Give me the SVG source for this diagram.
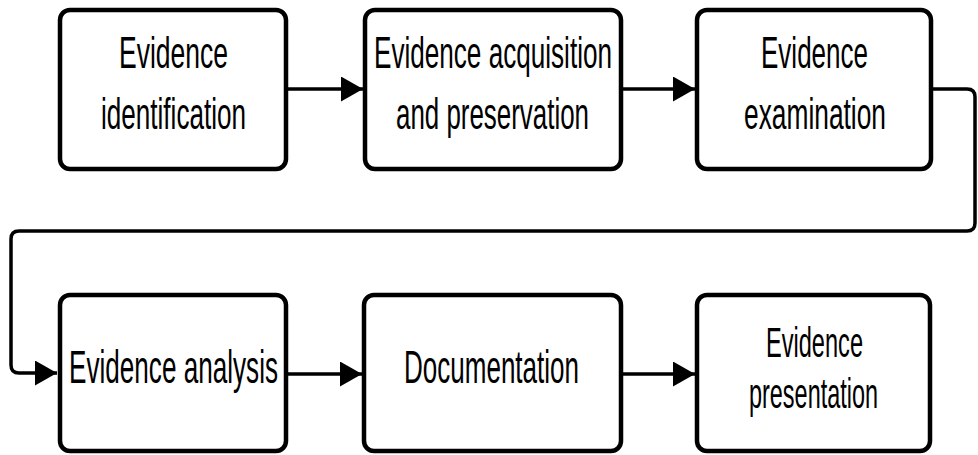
<svg xmlns="http://www.w3.org/2000/svg" width="978" height="455" viewBox="0 0 978 455">
  <style>
    .box { fill: #ffffff; stroke: #000000; stroke-width: 4.5; }
    .lbl { font-family: "Liberation Sans", Arial, sans-serif; fill: #000000; text-anchor: middle; }
    .wire { fill: none; stroke: #000000; stroke-width: 3.5; stroke-linejoin: round; }
  </style>
  <defs>
    <marker id="arrow" markerUnits="userSpaceOnUse" markerWidth="24" markerHeight="28" refX="22" refY="12.5" orient="auto">
      <path d="M0,0 L22,12.5 L0,25 Z" fill="#000000"/>
    </marker>
  </defs>

  <!-- connectors -->
  <g id="connectors">
    <line class="wire" x1="288" y1="89" x2="363" y2="89" marker-end="url(#arrow)"/>
    <line class="wire" x1="623" y1="89" x2="695" y2="89" marker-end="url(#arrow)"/>
    <path class="wire" d="M933,89 H967 Q975,89 975,97 V223 Q975,231 967,231 H19 Q11,231 11,239 V365 Q11,373 19,373 H57" marker-end="url(#arrow)"/>
    <line class="wire" x1="288" y1="374" x2="362" y2="374" marker-end="url(#arrow)"/>
    <line class="wire" x1="623" y1="374" x2="695" y2="374" marker-end="url(#arrow)"/>
  </g>

  <!-- top row -->
  <g id="identification">
    <rect class="box" x="60" y="10" width="226" height="159" rx="10"/>
    <text class="lbl" x="173.5" y="68" font-size="44" textLength="109" lengthAdjust="spacingAndGlyphs">Evidence</text>
    <text class="lbl" x="173.5" y="129" font-size="44" textLength="145" lengthAdjust="spacingAndGlyphs">identification</text>
  </g>
  <g id="acquisition">
    <rect class="box" x="365" y="10" width="256" height="159" rx="10"/>
    <text class="lbl" x="493" y="68" font-size="44" textLength="238" lengthAdjust="spacingAndGlyphs">Evidence acquisition</text>
    <text class="lbl" x="492.5" y="129" font-size="44" textLength="193" lengthAdjust="spacingAndGlyphs">and preservation</text>
  </g>
  <g id="examination">
    <rect class="box" x="697" y="10" width="234" height="159" rx="10"/>
    <text class="lbl" x="814.5" y="68" font-size="44" textLength="107" lengthAdjust="spacingAndGlyphs">Evidence</text>
    <text class="lbl" x="815" y="129" font-size="44" textLength="142" lengthAdjust="spacingAndGlyphs">examination</text>
  </g>

  <!-- bottom row -->
  <g id="analysis">
    <rect class="box" x="60" y="295" width="226" height="156" rx="10"/>
    <text class="lbl" x="173.5" y="383" font-size="46" textLength="209" lengthAdjust="spacingAndGlyphs">Evidence analysis</text>
  </g>
  <g id="documentation">
    <rect class="box" x="364" y="295" width="257" height="156" rx="10"/>
    <text class="lbl" x="491.5" y="383" font-size="46" textLength="175" lengthAdjust="spacingAndGlyphs">Documentation</text>
  </g>
  <g id="presentation">
    <rect class="box" x="697" y="295" width="233" height="156" rx="10"/>
    <text class="lbl" x="814.5" y="357" font-size="42" textLength="97" lengthAdjust="spacingAndGlyphs">Evidence</text>
    <text class="lbl" x="813.5" y="408" font-size="42" textLength="129" lengthAdjust="spacingAndGlyphs">presentation</text>
  </g>
</svg>
